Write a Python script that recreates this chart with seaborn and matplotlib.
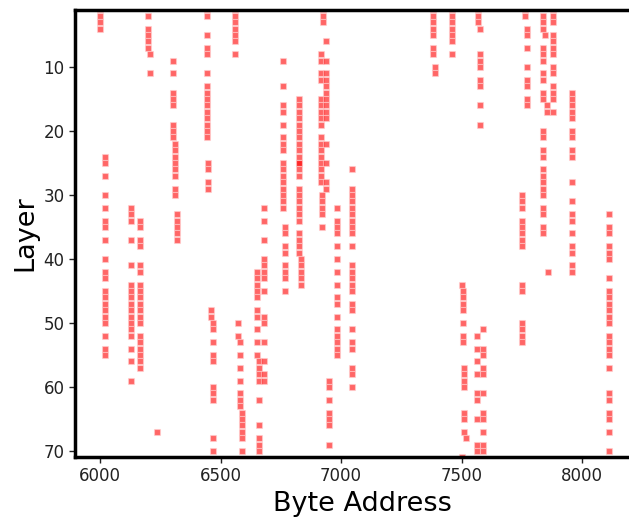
import matplotlib
matplotlib.use("Agg")
import matplotlib.pyplot as plt
import seaborn as sns
import pandas as pd

# Column x-positions (byte addresses) and the layers hit at each column
col_x = [6000, 6020, 6128, 6166, 6200, 6207, 6236, 6303, 6311, 6320,
         6444, 6448, 6560, 6460, 6469, 6573, 6581, 6589, 6651, 6660,
         6680, 6759, 6768, 6826, 6834, 6915, 6925, 6938, 6922, 6950,
         6983, 7046, 7381, 7390, 7461, 7568, 7577, 7502, 7506, 7510,
         7519, 7564, 7589, 7763, 7772, 7751, 7838, 7845, 7855, 7860,
         7880, 7958, 8112]

layers_6000 = [1, 2, 3, 4]
layers_6020 = [24, 25, 27, 30, 32, 34, 35, 37, 40, 42, 43, 45, 46, 47, 48, 49, 50, 52, 54, 55]
layers_6128 = [32, 33, 34, 37, 41, 44, 45, 46, 47, 48, 49, 50, 51, 52, 54, 56, 59]
layers_6166 = [34, 35, 37, 38, 41, 42, 44, 45, 46, 47, 48, 49, 50, 52, 53, 54, 55, 56, 57]
layers_6200 = [2, 4, 5, 6, 7]
layers_6207 = [8, 11]
layers_6236 = [67]
layers_6303 = [9, 11, 14, 15, 16, 19, 20, 21]
layers_6311 = [22, 23, 24, 25, 26, 27, 29, 30]
layers_6320 = [33, 34, 35, 36, 37]
layers_6444 = [1, 2, 5, 7, 8, 11, 13, 14, 15, 16, 17, 18, 19, 20, 21]
layers_6448 = [25, 26, 28, 29]
layers_6560 = [1, 2, 3, 4, 5, 6, 8]
layers_6460 = [48, 49]
layers_6469 = [50, 51, 53, 55, 56, 60, 61, 62, 68, 70]
layers_6573 = [50, 52]
layers_6581 = [53, 55, 57, 59, 61, 62, 63]
layers_6589 = [64, 65, 66, 67, 68, 70]
layers_6651 = [42, 43, 44, 45, 46, 48, 49, 51, 53, 55]
layers_6660 = [56, 57, 58, 59, 62, 66, 68, 69, 70]
layers_6680 = [32, 34, 37, 40, 41, 42, 43, 45, 49, 50, 53, 56, 58, 59]
layers_6759 = [9, 13, 16, 17, 19, 21, 22, 23, 25, 26, 27, 28, 29, 30, 31, 32]
layers_6768 = [35, 36, 38, 39, 41, 42, 43, 45]
layers_6826 = [15, 16, 17, 18, 19, 20, 21, 22, 23, 24, 25, 25, 26, 27, 29,
               30, 31, 32, 33, 34, 36, 37, 38, 39]
layers_6834 = [40, 41, 42, 43, 44]
layers_6915 = [8, 9, 11, 12, 15, 16, 17, 18, 19, 21, 22, 23, 24, 25, 26, 27, 28]
layers_6925 = [1, 2, 3]
layers_6938 = [6, 9, 11, 12, 13, 14, 15, 16, 17, 18, 22, 25, 28, 29]
layers_6922 = [30, 31, 32, 33, 35]
layers_6950 = [59, 60, 62, 64, 65, 66, 69]
layers_6983 = [32, 34, 35, 36, 38, 40, 42, 44, 46, 47, 49, 51, 52, 53, 54, 55]
layers_7046 = [26, 29, 30, 31, 32, 33, 34, 35, 36, 38, 41, 42, 43, 44, 45,
               47, 48, 51, 53, 54, 57, 58, 60]
layers_7381 = [1, 2, 3, 4, 5, 7, 8]
layers_7390 = [10, 11]
layers_7461 = [1, 2, 3, 4, 5, 6, 8]
layers_7568 = [1, 2, 3]
layers_7577 = [4, 8, 9, 10, 12, 13, 16, 19]
layers_7502 = [44, 71]
layers_7506 = [45, 46, 47, 48, 50, 52, 53]
layers_7510 = [57, 58, 59, 60, 64, 65, 67]
layers_7519 = [68]
layers_7564 = [52, 54, 56, 58, 61, 62, 65, 69, 70]
layers_7589 = [51, 54, 55, 57, 58, 61, 64, 65, 67, 69, 70]
layers_7763 = [1, 2]
layers_7772 = [4, 5, 7, 10, 12, 13, 15, 16]
layers_7751 = [30, 31, 32, 34, 35, 36, 37, 38, 44, 45, 50, 51, 52, 53]
layers_7838 = [2, 3, 4, 7, 8, 9, 11, 12, 14, 15, 20, 21, 23, 24, 26, 27, 28,
               29, 30, 32, 33, 35, 36]
layers_7845 = [5]
layers_7855 = [16, 17]
layers_7860 = [42]
layers_7880 = [1, 2, 3, 5, 6, 7, 8, 10, 11, 13, 14, 15, 17]
layers_7958 = [14, 15, 16, 17, 18, 20, 21, 23, 24, 28, 31, 33, 34, 36, 38,
               39, 41, 42]
layers_8112 = [33, 35, 36, 38, 39, 40, 43, 45, 46, 47, 48, 49, 50, 52, 53,
               54, 55, 57, 61, 62, 64, 65, 67, 70]

col_layers = [layers_6000, layers_6020, layers_6128, layers_6166, layers_6200,
              layers_6207, layers_6236, layers_6303, layers_6311, layers_6320,
              layers_6444, layers_6448, layers_6560, layers_6460, layers_6469,
              layers_6573, layers_6581, layers_6589, layers_6651, layers_6660,
              layers_6680, layers_6759, layers_6768, layers_6826, layers_6834,
              layers_6915, layers_6925, layers_6938, layers_6922, layers_6950,
              layers_6983, layers_7046, layers_7381, layers_7390, layers_7461,
              layers_7568, layers_7577, layers_7502, layers_7506, layers_7510,
              layers_7519, layers_7564, layers_7589, layers_7763, layers_7772,
              layers_7751, layers_7838, layers_7845, layers_7855, layers_7860,
              layers_7880, layers_7958, layers_8112]

xs, ys = [], []
for x, ls in zip(col_x, col_layers):
    for l in ls:
        xs.append(x)
        ys.append(l)
df = pd.DataFrame({"Byte Address": xs, "Layer": ys})

fig = plt.figure(figsize=(6.29, 5.21), dpi=100)
ax = fig.add_axes([75 / 629, (521 - 457) / 521, 575 / 629, (457 - 10) / 521])

sns.scatterplot(data=df, x="Byte Address", y="Layer", marker="s", color="red",
                alpha=0.6, s=25, edgecolor="#ffd0d0", linewidth=0.8, ax=ax)

ax.set_xlim(5896, 5896 + 575 / 0.241)
ax.set_ylim(70.95, 1.1)
ax.set_xticks([6000, 6500, 7000, 7500, 8000])
ax.set_yticks([10, 20, 30, 40, 50, 60, 70])
ax.tick_params(labelsize=12, length=4, width=1, colors="#222222")
for sp in ax.spines.values():
    sp.set_linewidth(2.5)
    sp.set_color("black")
ax.set_xlabel("Byte Address", fontsize=19.5)
ax.set_ylabel("Layer", fontsize=19.5)

fig.savefig("out.png", dpi=100)
